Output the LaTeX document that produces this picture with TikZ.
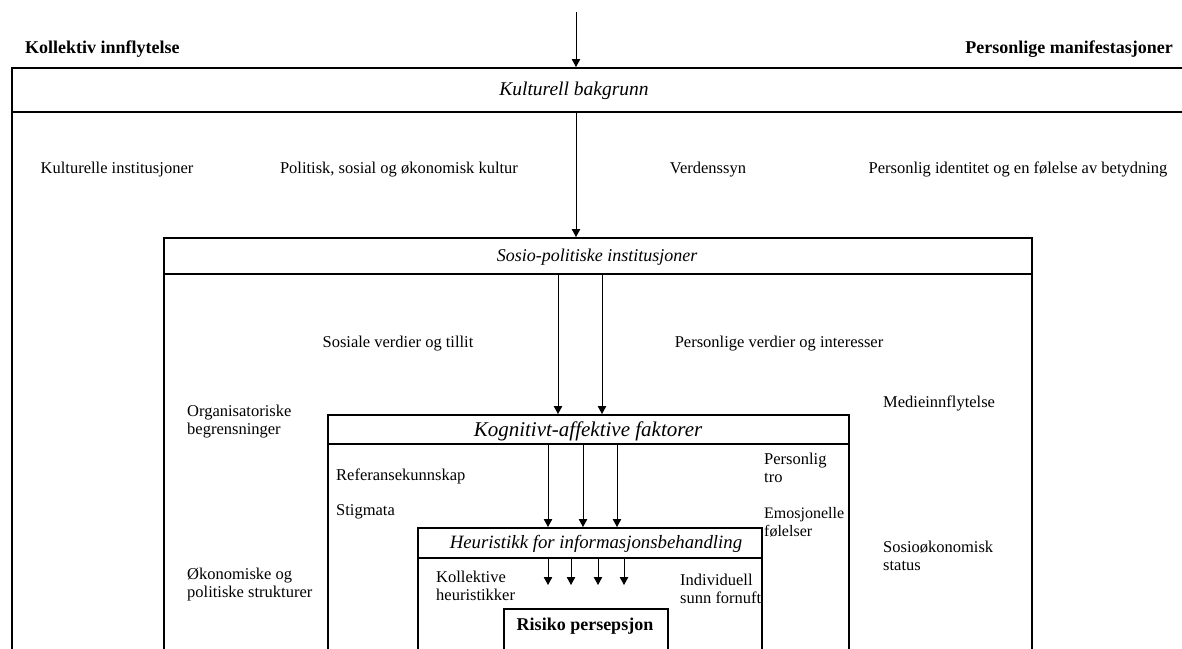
\documentclass[tikz,border=0pt]{standalone}
\usepackage{fontspec}
\setmainfont{Liberation Serif}
\usetikzlibrary{arrows.meta}
\begin{document}
\begin{tikzpicture}[x=1pt,y=-1pt,
  boxline/.style={draw, line width=1.8pt, inner sep=0pt},
  headtxt/.style={font=\fontsize{19.5}{22}\selectfont\itshape, inner sep=0pt, anchor=base},
  lbl/.style={font=\fontsize{16.5}{17.5}\selectfont, inner sep=0pt, anchor=base west, align=left},
  clbl/.style={font=\fontsize{16.5}{17.5}\selectfont, inner sep=0pt, anchor=base},
  toplbl/.style={font=\fontsize{18}{20}\selectfont\bfseries, inner sep=0pt, anchor=base},
  arr/.style={line width=0.9pt, -{Triangle[length=8pt,width=8.5pt]}}]
\useasboundingbox (0,0) rectangle (1182,648);
\clip (0,0) rectangle (1182,648);
% boxes (bodies)
\node[boxline, minimum width=1190pt, minimum height=600pt, anchor=north west] (kb) at (11,67) {};
\node[boxline, minimum width=868pt, minimum height=430pt, anchor=north west] (sp) at (163,237) {};
\node[boxline, minimum width=521pt, minimum height=260pt, anchor=north west] (ka) at (327,414) {};
\node[boxline, minimum width=344pt, minimum height=150pt, anchor=north west] (hi) at (417,527) {};
\node[draw, line width=1.5pt, minimum width=164pt, minimum height=60pt, anchor=north west] (rp) at (503,608) {};
% header bands
\node[boxline, minimum width=1190pt, minimum height=44pt, anchor=north west] (kbh) at (11,67) {};
\node[boxline, minimum width=868pt, minimum height=36pt, anchor=north west] (sph) at (163,237) {};
\node[boxline, minimum width=521pt, minimum height=29pt, anchor=north west] (kah) at (327,414) {};
\node[boxline, minimum width=344pt, minimum height=30pt, anchor=north west] (hih) at (417,527) {};
% header texts
\node[headtxt] (t1) at (574,95) {Kulturell bakgrunn};
\node[headtxt, font=\fontsize{18}{21}\selectfont\itshape] (t2) at (597,261) {Sosio-politiske institusjoner};
\node[headtxt, font=\fontsize{21}{24}\selectfont\itshape] (t3) at (588,436) {Kognitivt-affektive faktorer};
\node[headtxt, font=\fontsize{18.8}{22}\selectfont\itshape] (t4) at (596,548) {Heuristikk for informasjonsbehandling};
\node[toplbl] (t5) at (585,630) {Risiko persepsjon};
% top labels
\node[toplbl, anchor=base west] (kol) at (25,53) {Kollektiv innflytelse};
\node[toplbl, anchor=base east] (per) at (1173,53) {Personlige manifestasjoner};
% culture row
\node[clbl] (c1) at (117,173) {Kulturelle institusjoner};
\node[clbl] (c2) at (399,173) {Politisk, sosial og økonomisk kultur};
\node[clbl] (c3) at (708,173) {Verdenssyn};
\node[clbl] (c4) at (1018,173) {Personlig identitet og en følelse av betydning};
% socio-political
\node[clbl] (s1) at (398,347) {Sosiale verdier og tillit};
\node[clbl] (s2) at (779,347) {Personlige verdier og interesser};
\node[lbl] (s3) at (187,434) {Organisatoriske\\begrensninger};
\node[lbl] (s4) at (187,597) {Økonomiske og\\politiske strukturer};
\node[lbl] (s5) at (883,407) {Medieinnflytelse};
\node[lbl] (s6) at (883,570) {Sosioøkonomisk\\status};
% cognitive-affective
\node[lbl] (k1) at (336,480) {Referansekunnskap};
\node[lbl] (k2) at (336,515) {Stigmata};
\node[lbl] (k3) at (764,482) {Personlig\\tro};
\node[lbl, font=\fontsize{16}{17.5}\selectfont] (k4) at (764,536) {Emosjonelle\\følelser};
% heuristics
\node[lbl] (h1) at (436,600) {Kollektive\\heuristikker};
\node[lbl] (h2) at (680,603) {Individuell\\sunn fornuft};
% arrows
\coordinate (src) at (576,12);
\coordinate (xa) at (558,0);
\coordinate (xb) at (602,0);
\coordinate (xc) at (548,0);
\coordinate (xd) at (583,0);
\coordinate (xe) at (617,0);
\coordinate (e1) at (548,585);
\coordinate (e2) at (571,585);
\coordinate (e3) at (598,585);
\coordinate (e4) at (624,585);
\draw[arr] (src) -- (kbh.north -| src);
\draw[arr] (kbh.south -| src) -- (sph.north -| src);
\draw[arr] (sph.south -| xa) -- (kah.north -| xa);
\draw[arr] (sph.south -| xb) -- (kah.north -| xb);
\draw[arr] (kah.south -| xc) -- (hih.north -| xc);
\draw[arr] (kah.south -| xd) -- (hih.north -| xd);
\draw[arr] (kah.south -| xe) -- (hih.north -| xe);
\draw[arr] (hih.south -| e1) -- (e1);
\draw[arr] (hih.south -| e2) -- (e2);
\draw[arr] (hih.south -| e3) -- (e3);
\draw[arr] (hih.south -| e4) -- (e4);
\end{tikzpicture}
\end{document}
